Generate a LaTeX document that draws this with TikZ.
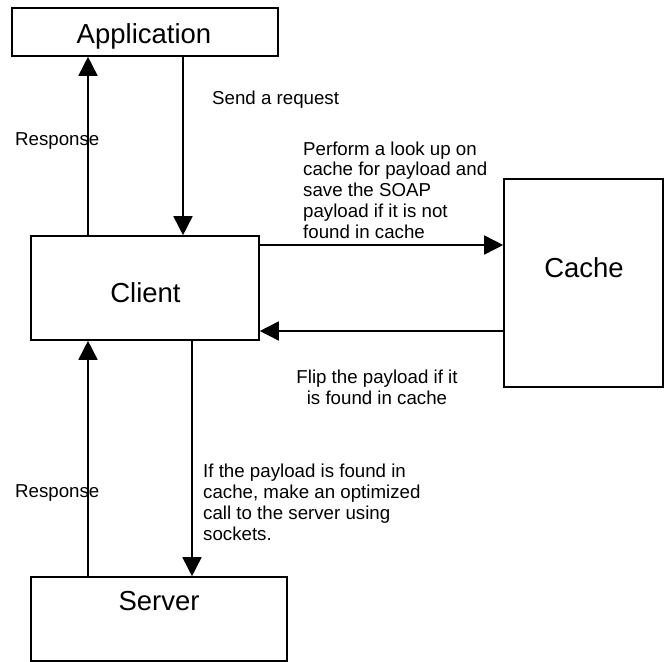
\documentclass[tikz,border=0pt]{standalone}
\usepackage{fontspec}
\setmainfont{Liberation Sans}
\usetikzlibrary{arrows.meta,calc,positioning}
\tikzset{
  block/.style={draw, line width=1.6pt, inner sep=0pt},      % plain box
  blocktext/.style={font=\fontsize{27.5}{30}\selectfont, inner sep=0pt, anchor=base},
  note/.style={font=\fontsize{18.7}{20.7}\selectfont, inner sep=0pt, align=left},
  flow/.style={-{Triangle[length=19pt,width=19pt]}, line width=1.6pt}
}

\begin{document}
\begin{tikzpicture}[x=1pt,y=-1pt]
  \useasboundingbox (0,0) rectangle (665,662);
  % boxes
  \node[block, minimum width=266pt, minimum height=48pt] (app) at (145,32) {};
  \node[block, minimum width=228pt, minimum height=104pt] (client) at (145,288) {};
  \node[block, minimum width=159pt, minimum height=208pt] (cache) at (583.5,283) {};
  \node[block, minimum width=256pt, minimum height=84pt] (server) at (159,619) {};
  % box titles
  \node[blocktext] (app-txt) at (144,43) {Application};
  \node[blocktext] (client-txt) at (145.5,302) {Client};
  \node[blocktext] (cache-txt) at (584,277) {Cache};
  \node[blocktext] (server-txt) at (159,610) {Server};
  % application <-> client
  \draw[flow] ([xshift=-57pt]client.north) -- ([xshift=-57pt]app.south);
  \draw[flow] ([xshift=38pt]app.south) -- ([xshift=38pt]client.north);
  % client <-> cache
  \draw[flow] ([yshift=43pt]client.east) -- ([yshift=43pt]client.east -| cache.west);
  \draw[flow] ([yshift=-43pt]client.east -| cache.west) -- ([yshift=-43pt]client.east);
  % client <-> server
  \draw[flow] ([xshift=-57pt]client.south |- server.north) -- ([xshift=-57pt]client.south);
  \draw[flow] ([xshift=47pt]client.south) -- ([xshift=47pt]client.south |- server.north);
  % labels (base = last line)
  \node[note, anchor=base west] (send-lbl) at (212,104) {Send a request};
  \node[note, anchor=base west] (resp-up) at (15,145) {Response};
  \node[note, anchor=base west] (lookup-lbl) at (303,238)
    {Perform a look up on\\cache for payload and\\save the SOAP\\payload if it is not\\found in cache};
  \node[note, align=center, anchor=base] (flip-lbl) at (377,404)
    {Flip the payload if it\\is found in cache};
  \node[note, anchor=base west] (call-lbl) at (203,540)
    {If the payload is found in\\cache, make an optimized\\call to the server using\\sockets.};
  \node[note, anchor=base west] (resp-down) at (15,497) {Response};
\end{tikzpicture}
\end{document}
